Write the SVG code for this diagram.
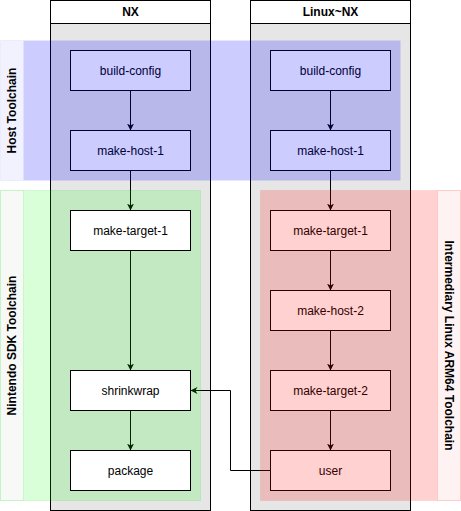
<svg xmlns="http://www.w3.org/2000/svg" width="461" height="511" viewBox="0 0 461 511">
  <defs>
    <style>
      .lane { fill: #e6e6e6; stroke: #000; stroke-width: 1; }
      .lane-head { fill: #fff; stroke: #000; stroke-width: 1; }
      .lane-title { font-family: "Liberation Sans", Arial, sans-serif; font-size: 12px; font-weight: bold; fill: #000; text-anchor: middle; }
      .node rect { fill: #fff; stroke: #000; stroke-width: 1; }
      .node text { font-family: "Liberation Sans", Arial, sans-serif; font-size: 12px; fill: #000; text-anchor: middle; }
      .edge { fill: none; stroke: #000; stroke-width: 1; marker-end: url(#arrow); }
      .band-label { font-family: "Liberation Sans", Arial, sans-serif; font-size: 12px; font-weight: bold; fill: #000; text-anchor: middle; }
    </style>
    <marker id="arrow" viewBox="0 0 10 10" refX="10" refY="5" markerWidth="7" markerHeight="7" markerUnits="userSpaceOnUse" orient="auto">
      <path d="M0,0 L10,5 L0,10 L3,5 Z" fill="#000"/>
    </marker>
  </defs>

  <!-- pools -->
  <g id="lane-nx">
    <rect class="lane" x="50.5" y="0.5" width="160" height="510"/>
    <rect class="lane-head" x="50.5" y="0.5" width="160" height="23"/>
    <text class="lane-title" x="130.5" y="16">NX</text>
  </g>
  <g id="lane-linux-nx">
    <rect class="lane" x="250.5" y="0.5" width="160" height="510"/>
    <rect class="lane-head" x="250.5" y="0.5" width="160" height="23"/>
    <text class="lane-title" x="330.5" y="16">Linux~NX</text>
  </g>

  <!-- connectors -->
  <g id="connectors">
    <path class="edge" d="M130.5,90.5 V130.5"/>
    <path class="edge" d="M130.5,170.5 V210.5"/>
    <path class="edge" d="M130.5,250.5 V370.5"/>
    <path class="edge" d="M130.5,410.5 V450.5"/>
    <path class="edge" d="M330.5,90.5 V130.5"/>
    <path class="edge" d="M330.5,170.5 V210.5"/>
    <path class="edge" d="M330.5,250.5 V290.5"/>
    <path class="edge" d="M330.5,330.5 V370.5"/>
    <path class="edge" d="M330.5,410.5 V450.5"/>
    <path class="edge" d="M270.5,470.5 H230.5 V390.5 H190.5"/>
  </g>

  <!-- Nintendo SDK toolchain band (under the NX target nodes) -->
  <g id="band-nintendo-sdk">
    <rect x="0.5" y="190.5" width="200" height="310" fill="#00ff00" fill-opacity="0.15" stroke="#00cc00" stroke-opacity="0.12"/>
    <rect x="0.5" y="190.5" width="23" height="310" fill="#f6f9f6" stroke="#00cc00" stroke-opacity="0.12"/>
    <text class="band-label" transform="translate(16,345.5) rotate(-90)">Nintendo SDK Toolchain</text>
  </g>

  <!-- nodes -->
  <g id="nx-build-config" class="node">
    <rect x="70.5" y="50.5" width="120" height="40"/>
    <text x="130.5" y="74.5">build-config</text>
  </g>
  <g id="nx-make-host-1" class="node">
    <rect x="70.5" y="130.5" width="120" height="40"/>
    <text x="130.5" y="154.5">make-host-1</text>
  </g>
  <g id="nx-make-target-1" class="node">
    <rect x="70.5" y="210.5" width="120" height="40"/>
    <text x="130.5" y="234.5">make-target-1</text>
  </g>
  <g id="nx-shrinkwrap" class="node">
    <rect x="70.5" y="370.5" width="120" height="40"/>
    <text x="130.5" y="394.5">shrinkwrap</text>
  </g>
  <g id="nx-package" class="node">
    <rect x="70.5" y="450.5" width="120" height="40"/>
    <text x="130.5" y="474.5">package</text>
  </g>
  <g id="lnx-build-config" class="node">
    <rect x="270.5" y="50.5" width="120" height="40"/>
    <text x="330.5" y="74.5">build-config</text>
  </g>
  <g id="lnx-make-host-1" class="node">
    <rect x="270.5" y="130.5" width="120" height="40"/>
    <text x="330.5" y="154.5">make-host-1</text>
  </g>
  <g id="lnx-make-target-1" class="node">
    <rect x="270.5" y="210.5" width="120" height="40"/>
    <text x="330.5" y="234.5">make-target-1</text>
  </g>
  <g id="lnx-make-host-2" class="node">
    <rect x="270.5" y="290.5" width="120" height="40"/>
    <text x="330.5" y="314.5">make-host-2</text>
  </g>
  <g id="lnx-make-target-2" class="node">
    <rect x="270.5" y="370.5" width="120" height="40"/>
    <text x="330.5" y="394.5">make-target-2</text>
  </g>
  <g id="lnx-user" class="node">
    <rect x="270.5" y="450.5" width="120" height="40"/>
    <text x="330.5" y="474.5">user</text>
  </g>

  <!-- translucent toolchain bands laid over the pools -->
  <g id="band-host">
    <rect x="0.5" y="40.5" width="400" height="140" fill="#0000ff" fill-opacity="0.2" stroke="none"/>
    <rect x="0.5" y="40.5" width="23" height="140" fill="#f2f2ff" stroke="none"/>
    <text class="band-label" transform="translate(16,110.5) rotate(-90)">Host Toolchain</text>
  </g>
  <g id="band-intermediary">
    <rect x="260.5" y="190.5" width="200" height="310" fill="#ff0000" fill-opacity="0.18" stroke="#ff0000" stroke-opacity="0.08"/>
    <rect x="437.5" y="190.5" width="23" height="310" fill="#fff2f2" stroke="#ff0000" stroke-opacity="0.1"/>
    <text class="band-label" transform="translate(445,345.5) rotate(90)">Intermediary Linux ARM64 Toolchain</text>
  </g>
</svg>
